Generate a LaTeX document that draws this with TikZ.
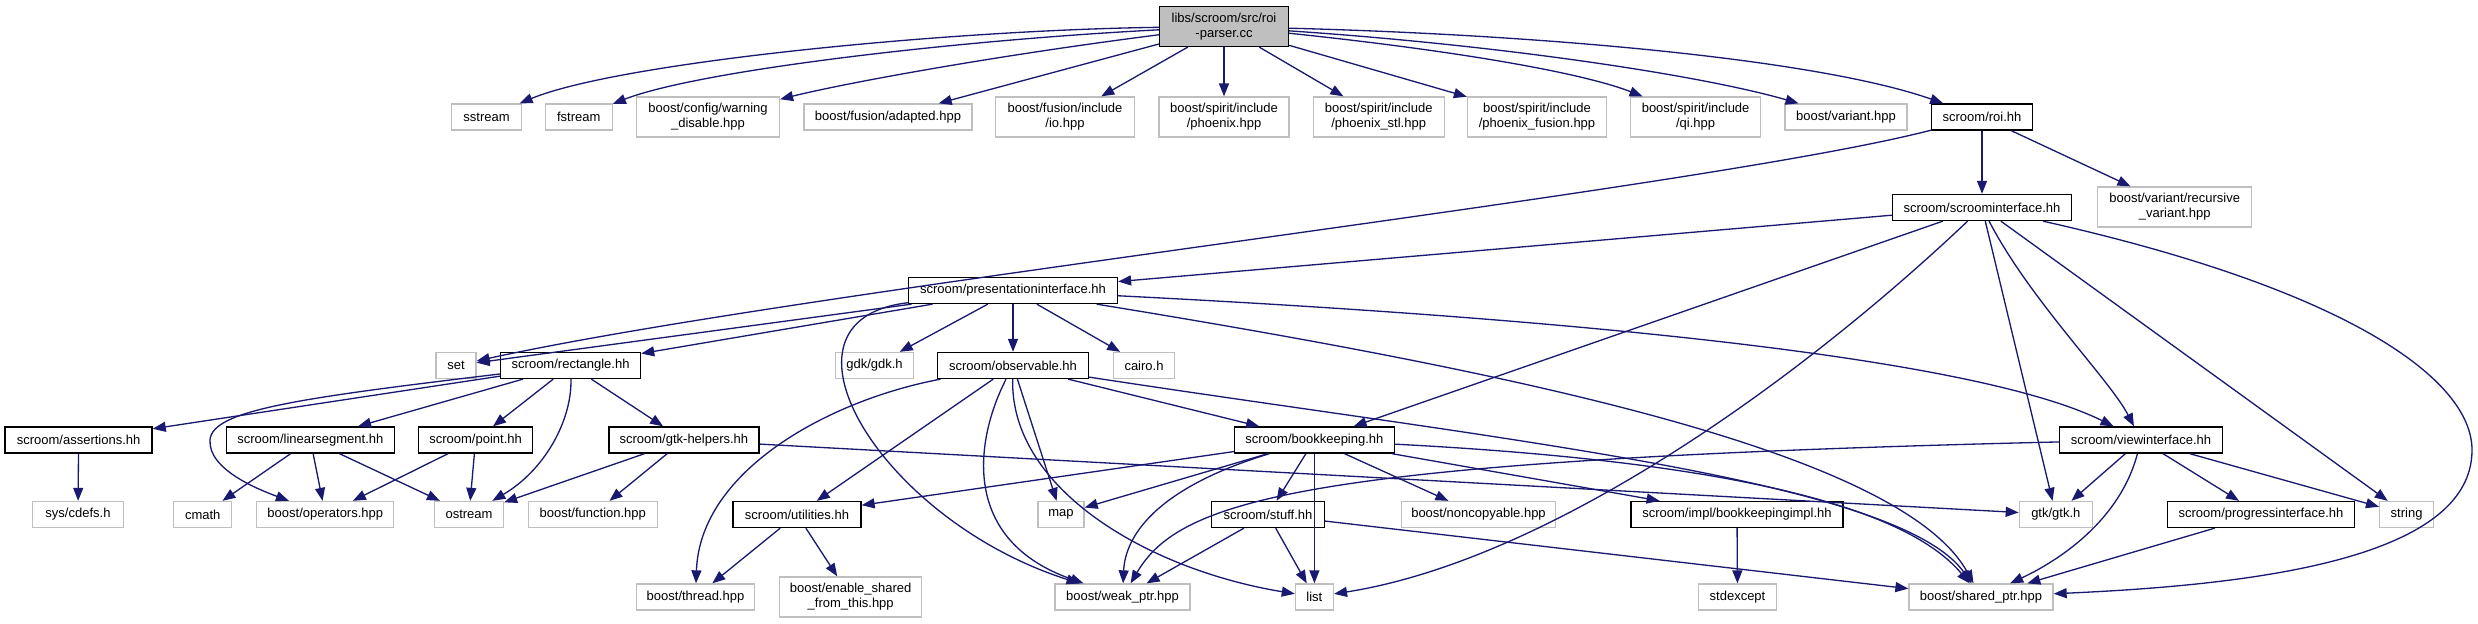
\documentclass[tikz,border=0pt]{standalone}
\usepackage{fontspec}
\setmainfont{Liberation Sans}
\usetikzlibrary{arrows.meta}
\definecolor{edgeblue}{HTML}{191970}
\definecolor{rootgray}{HTML}{BFBFBF}

\begin{document}
\begin{tikzpicture}[x=0.02cm, y=-0.02cm,
    font=\fontsize{7.4}{8.4}\selectfont,
    incfile/.style={draw=black, line width=0.75pt, fill=white, minimum height=0.52cm, inner sep=1pt, align=center},
    extfile/.style={incfile, draw=black!25},
    twoline/.style={minimum height=0.8cm},
    dep/.style={draw=edgeblue, line width=0.75pt, -{Triangle[length=0.26cm, width=0.2cm]}}]

    % ==========================================
    % FIXED FRAME
    % ==========================================
    \useasboundingbox (0,0) rectangle (2478,624);

    % ==========================================
    % FILE NODES (rank by rank)
    % ==========================================

    % the source file itself
    \node[incfile, twoline, fill=rootgray, minimum width=2.58cm] (root) at (1224,26.5) {libs/scroom/src/roi\\-parser.cc};

    % direct includes
    \node[extfile, minimum width=1.40cm] (sstream) at (486.5,117) {sstream};
    \node[extfile, minimum width=1.34cm] (fstream) at (578.7,117) {fstream};
    \node[extfile, twoline, minimum width=2.86cm] (warning) at (708,117) {boost/config/warning\\\_disable.hpp};
    \node[extfile, minimum width=3.36cm] (adapted) at (888,117) {boost/fusion/adapted.hpp};
    \node[extfile, twoline, minimum width=2.78cm] (io) at (1065,117) {boost/fusion/include\\/io.hpp};
    \node[extfile, twoline, minimum width=2.60cm] (phoenix) at (1224,117) {boost/spirit/include\\/phoenix.hpp};
    \node[extfile, twoline, minimum width=2.62cm] (stl) at (1378.7,117) {boost/spirit/include\\/phoenix\_stl.hpp};
    \node[extfile, twoline, minimum width=2.78cm] (fusion) at (1537,117) {boost/spirit/include\\/phoenix\_fusion.hpp};
    \node[extfile, twoline, minimum width=2.60cm] (qi) at (1695.6,117) {boost/spirit/include\\/qi.hpp};
    \node[extfile, minimum width=2.44cm] (variant) at (1846,117) {boost/variant.hpp};
    \node[incfile, minimum width=2.02cm] (roi) at (1982,117) {scroom/roi.hh};

    \node[incfile, minimum width=3.58cm] (scroomif) at (1982,207.5) {scroom/scroominterface.hh};
    \node[extfile, twoline, minimum width=3.08cm] (recvariant) at (2174.7,207) {boost/variant/recursive\\\_variant.hpp};

    \node[incfile, minimum width=4.18cm] (presif) at (1013,290.5) {scroom/presentationinterface.hh};

    \node[extfile, minimum width=0.80cm] (set) at (456,365.5) {set};
    \node[incfile, minimum width=2.80cm] (rectangle) at (570.6,365.5) {scroom/rectangle.hh};
    \node[extfile, minimum width=1.56cm] (gdk) at (874.5,365.5) {gdk/gdk.h};
    \node[incfile, minimum width=3.02cm] (observable) at (1013,365.5) {scroom/observable.hh};
    \node[extfile, minimum width=1.22cm] (cairo) at (1144,365.5) {cairo.h};

    \node[incfile, minimum width=2.94cm] (assertions) at (78.6,440) {scroom/assertions.hh};
    \node[incfile, minimum width=3.36cm] (linseg) at (310.4,440) {scroom/linearsegment.hh};
    \node[incfile, minimum width=2.28cm] (point) at (475.6,440) {scroom/point.hh};
    \node[incfile, minimum width=3.00cm] (gtkhelpers) at (683.9,440) {scroom/gtk-helpers.hh};
    \node[incfile, minimum width=3.20cm] (bookkeeping) at (1314.4,440) {scroom/bookkeeping.hh};
    \node[incfile, minimum width=3.26cm] (viewif) at (2141,440) {scroom/viewinterface.hh};

    \node[extfile, minimum width=1.81cm] (cdefs) at (78,514.5) {sys/cdefs.h};
    \node[extfile, minimum width=1.16cm] (cmath) at (202.7,514.5) {cmath};
    \node[extfile, minimum width=2.74cm] (operators) at (325.3,514.5) {boost/operators.hpp};
    \node[extfile, minimum width=1.38cm] (ostream) at (469,514.5) {ostream};
    \node[extfile, minimum width=2.58cm] (function) at (592.8,514.5) {boost/function.hpp};
    \node[incfile, minimum width=2.56cm] (utilities) at (797,514.5) {scroom/utilities.hh};
    \node[extfile, minimum width=0.92cm] (map) at (1061,514.5) {map};
    \node[incfile, minimum width=2.26cm] (stuff) at (1268,514.5) {scroom/stuff.hh};
    \node[extfile, minimum width=3.09cm] (noncopy) at (1478.5,514.5) {boost/noncopyable.hpp};
    \node[incfile, minimum width=4.24cm] (bkimpl) at (1737,514.5) {scroom/impl/bookkeepingimpl.hh};
    \node[extfile, minimum width=1.46cm] (gtk) at (2055.8,514.5) {gtk/gtk.h};
    \node[incfile, minimum width=3.73cm] (progress) at (2261,514.5) {scroom/progressinterface.hh};
    \node[extfile, minimum width=1.08cm] (string) at (2406.6,514.5) {string};

    \node[extfile, minimum width=2.35cm] (thread) at (695.5,597) {boost/thread.hpp};
    \node[extfile, twoline, minimum width=2.84cm] (enableshared) at (850.7,597) {boost/enable\_shared\\\_from\_this.hpp};
    \node[extfile, minimum width=2.70cm] (weakptr) at (1122.5,597) {boost/weak\_ptr.hpp};
    \node[extfile, minimum width=0.76cm] (list) at (1314.4,597) {list};
    \node[extfile, minimum width=1.55cm] (stdexcept) at (1737.5,597) {stdexcept};
    \node[extfile, minimum width=2.88cm] (sharedptr) at (1981,597) {boost/shared\_ptr.hpp};

    % ==========================================
    % INCLUDE EDGES
    % ==========================================

    % roi-parser.cc
    \draw[dep] (root) .. controls (950,30) and (620,62) .. (sstream);
    \draw[dep] (root) .. controls (960,40) and (700,70) .. (fstream);
    \draw[dep] (root) .. controls (1000,55) and (850,82) .. (warning);
    \draw[dep] (root) -- (adapted);
    \draw[dep] (root) -- (io);
    \draw[dep] (root) -- (phoenix);
    \draw[dep] (root) -- (stl);
    \draw[dep] (root) -- (fusion);
    \draw[dep] (root) .. controls (1450,50) and (1580,72) .. (qi);
    \draw[dep] (root) .. controls (1500,45) and (1700,75) .. (variant);
    \draw[dep] (root) .. controls (1550,35) and (1820,60) .. (roi);

    % roi.hh
    \draw[dep] (roi) .. controls (1700,190) and (800,290) .. (set);
    \draw[dep] (roi) -- (scroomif);
    \draw[dep] (roi) -- (recvariant);

    % scroominterface.hh
    \draw[dep] (scroomif) -- (presif);
    \draw[dep] (scroomif) -- (bookkeeping);
    \draw[dep] (scroomif) .. controls (1800,380) and (1550,560) .. (list);
    \draw[dep] (scroomif) -- (gtk);
    \draw[dep] (scroomif) .. controls (2030,300) and (2110,380) .. (viewif);
    \draw[dep] (scroomif) -- (string);
    \draw[dep] (scroomif) .. controls (2350,290) and (2472,380) .. (2472,450) .. controls (2472,560) and (2250,585) .. (sharedptr);

    % presentationinterface.hh
    \draw[dep] (presif) -- (set);
    \draw[dep] (presif) -- (rectangle);
    \draw[dep] (presif) -- (gdk);
    \draw[dep] (presif) -- (observable);
    \draw[dep] (presif) -- (cairo);
    \draw[dep] (presif) .. controls (760,320) and (880,520) .. (weakptr);
    \draw[dep] (presif) .. controls (1600,320) and (1980,360) .. (viewif);
    \draw[dep] (presif) .. controls (1500,370) and (1900,450) .. (sharedptr);

    % rectangle.hh
    \draw[dep] (rectangle) -- (assertions);
    \draw[dep] (rectangle) .. controls (300,398) and (212,410) .. (210,440) .. controls (208,470) and (260,490) .. (operators);
    \draw[dep] (rectangle) -- (linseg);
    \draw[dep] (rectangle) -- (point);
    \draw[dep] (rectangle) .. controls (572,420) and (545,470) .. (ostream);
    \draw[dep] (rectangle) -- (gtkhelpers);

    % observable.hh
    \draw[dep] (observable) .. controls (830,400) and (700,470) .. (thread);
    \draw[dep] (observable) -- (utilities);
    \draw[dep] (observable) .. controls (975,440) and (960,540) .. (weakptr);
    \draw[dep] (observable) .. controls (1010,490) and (1150,570) .. (list);
    \draw[dep] (observable) -- (map);
    \draw[dep] (observable) -- (bookkeeping);
    \draw[dep] (observable) .. controls (1500,440) and (1900,480) .. (sharedptr);

    % bookkeeping.hh
    \draw[dep] (bookkeeping) -- (utilities);
    \draw[dep] (bookkeeping) -- (map);
    \draw[dep] (bookkeeping) .. controls (1150,490) and (1125,540) .. (weakptr);
    \draw[dep] (bookkeeping) -- (stuff);
    \draw[dep] (bookkeeping) -- (list);
    \draw[dep] (bookkeeping) -- (noncopy);
    \draw[dep] (bookkeeping) -- (bkimpl);
    \draw[dep] (bookkeeping) .. controls (1700,460) and (1900,500) .. (sharedptr);

    % viewinterface.hh
    \draw[dep] (viewif) .. controls (1300,460) and (1180,500) .. (weakptr);
    \draw[dep] (viewif) -- (gtk);
    \draw[dep] (viewif) .. controls (2120,520) and (2060,560) .. (sharedptr);
    \draw[dep] (viewif) -- (progress);
    \draw[dep] (viewif) -- (string);

    % the rest
    \draw[dep] (assertions) -- (cdefs);
    \draw[dep] (linseg) -- (cmath);
    \draw[dep] (linseg) -- (operators);
    \draw[dep] (linseg) -- (ostream);
    \draw[dep] (point) -- (operators);
    \draw[dep] (point) -- (ostream);
    \draw[dep] (gtkhelpers) -- (ostream);
    \draw[dep] (gtkhelpers) -- (function);
    \draw[dep] (gtkhelpers) -- (gtk);
    \draw[dep] (utilities) -- (thread);
    \draw[dep] (utilities) -- (enableshared);
    \draw[dep] (stuff) -- (weakptr);
    \draw[dep] (stuff) -- (list);
    \draw[dep] (stuff) -- (sharedptr);
    \draw[dep] (bkimpl) -- (stdexcept);
    \draw[dep] (progress) -- (sharedptr);

\end{tikzpicture}
\end{document}
